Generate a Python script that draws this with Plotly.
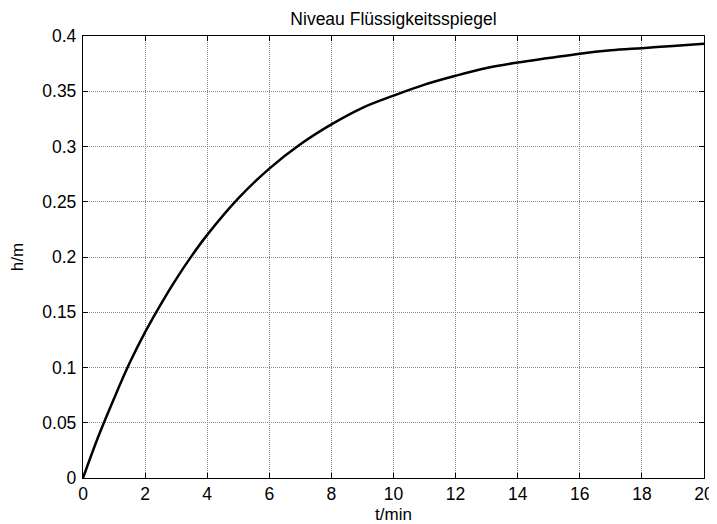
import plotly.graph_objects as go

t_min = [0, 0.5, 1, 1.5, 2, 2.5, 3, 3.5, 4, 5, 6, 7, 8, 9, 10, 11, 12, 13, 14, 15, 16, 17, 18, 19, 20]
h_m = [0, 0.038, 0.072, 0.104, 0.132, 0.157, 0.180, 0.201, 0.220, 0.253, 0.280, 0.302, 0.320,
       0.335, 0.346, 0.356, 0.364, 0.371, 0.376, 0.380, 0.384, 0.387, 0.389, 0.391, 0.393]

x_ticks = [0, 2, 4, 6, 8, 10, 12, 14, 16, 18, 20]
y_ticks = [0, 0.05, 0.1, 0.15, 0.2, 0.25, 0.3, 0.35, 0.4]
y_labels = ["0", "0.05", "0.1", "0.15", "0.2", "0.25", "0.3", "0.35", "0.4"]

FONT = "Liberation Sans, Arial, sans-serif"

fig = go.Figure()
fig.add_trace(go.Scatter(x=t_min, y=h_m, mode="lines", line=dict(color="black", width=2.5, shape="spline"),
                         showlegend=False))

axis_common = dict(showline=True, linecolor="black", linewidth=1.3, mirror="allticks",
                   ticks="inside", ticklen=5, tickcolor="black", showgrid=True,
                   gridcolor="#8a8a8a", griddash="1px,1px", gridwidth=1, zeroline=False,
                   automargin=False,
                   tickfont=dict(family=FONT, size=17.5, color="black"))

fig.update_xaxes(range=[0, 20], tickvals=x_ticks,
                 title=dict(text="t/min", font=dict(family=FONT, size=17, color="black"), standoff=7),
                 **axis_common)
fig.update_yaxes(range=[0, 0.4], tickvals=y_ticks, ticktext=y_labels, ticklabelstandoff=2,
                 title=dict(text="h/m", font=dict(family=FONT, size=17, color="black"), standoff=19),
                 **axis_common)

fig.update_layout(
    width=709, height=516,
    margin=dict(l=75, r=13, t=28, b=46, autoexpand=False),
    paper_bgcolor="white", plot_bgcolor="white",
    title=dict(text="Niveau Flüssigkeitsspiegel", x=0.5437, xanchor="center", y=0.979, yanchor="middle",
               font=dict(family=FONT, size=17.5, color="black")),
)

fig.write_html("out.html")
